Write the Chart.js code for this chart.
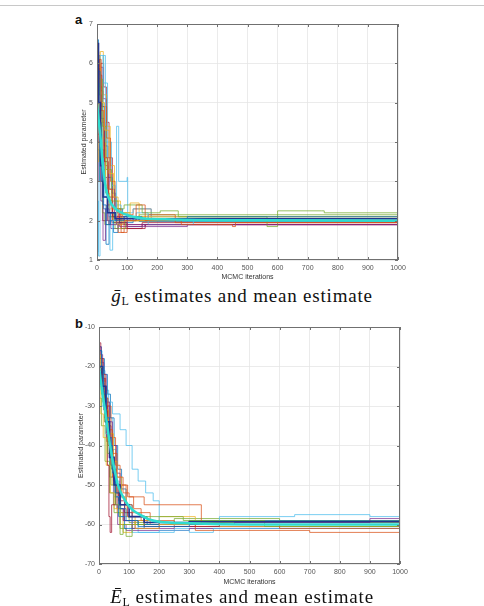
<!DOCTYPE html>
<html>
<head>
<meta charset="utf-8">
<script src="https://cdn.jsdelivr.net/npm/chart.js@4"></script>
<style>
  body { margin: 0; background: #fff; }
  #wrap { position: relative; width: 484px; height: 606px; overflow: hidden; }
  canvas { position: absolute; left: 0; }
  .letter { position: absolute; font: bold 13px "Liberation Sans", Arial, sans-serif; color: #111; }
  .cap { position: absolute; left: 0; width: 484px; text-align: center; letter-spacing: 0.8px;
         font: 19px "Liberation Serif", "DejaVu Serif", serif; color: #111; }
  .cap sub { font-size: 12px; vertical-align: -3px; line-height: 0; letter-spacing: 0; }
  .topline { position: absolute; left: 0; top: 5px; width: 484px; height: 0; border-top: 1px solid #c8c8c8; }
</style>
</head>
<body>
<div id="wrap">
  <div class="topline"></div>
  <div class="letter" style="left:75px;top:12px">a</div>
  <canvas id="chartA" width="484" height="285" style="top:0"></canvas>
  <div class="cap" style="top:285px"><i>ḡ</i><sub>L</sub> estimates and mean estimate</div>
  <div class="letter" style="left:75px;top:316px">b</div>
  <canvas id="chartB" width="484" height="290" style="top:300px"></canvas>
  <div class="cap" style="top:586px"><i>Ē</i><sub>L</sub> estimates and mean estimate</div>
</div>
<script>
// MATLAB default line colours
const colors = ['#0072BD', '#D95319', '#EDB120', '#7E2F8E', '#77AC30', '#4DBEEE', '#A2142F'];

// Panel a : g_L chains, [iteration, value] step points
const gRun1 = [[0,6.6],[5,5.8],[10,4.2],[15,3.0],[20,2.4],[30,1.9],[45,2.2],[60,2.0],[90,2.1],[150,2.05],[300,2.1],[1000,2.1]];
const gRun2 = [[0,5.5],[8,6.1],[14,4.8],[22,3.6],[35,2.8],[50,2.3],[70,1.7],[90,2.0],[130,2.4],[160,2.0],[280,1.9],[450,1.85],[460,1.95],[1000,1.95]];
const gRun3 = [[0,6.3],[6,5.9],[12,5.0],[25,4.3],[40,3.2],[55,2.6],[70,2.2],[110,2.0],[200,2.05],[1000,2.05]];
const gRun4 = [[0,4.8],[7,4.0],[13,2.5],[20,1.5],[28,2.3],[40,1.9],[65,2.1],[100,1.85],[160,1.9],[1000,1.95]];
const gRun5 = [[0,5.2],[9,5.6],[18,4.4],[30,3.3],[48,2.5],[70,2.3],[90,2.4],[150,2.2],[210,2.25],[270,2.1],[560,2.1],[565,1.85],[600,2.25],[745,2.25],[755,2.2],[1000,2.2]];
const gRun6 = [[0,2.5],[5,1.1],[10,3.5],[20,6.2],[28,4.0],[35,2.6],[43,1.25],[52,2.0],[65,4.4],[72,3.0],[100,3.1],[102,2.0],[130,2.2],[170,1.9],[320,2.0],[1000,2.0]];
const gRun7 = [[0,5.8],[4,6.1],[9,5.7],[16,4.9],[25,3.5],[38,2.6],[52,2.1],[75,1.95],[100,1.8],[160,1.9],[1000,1.95]];
const gRun8 = [[0,1.2],[3,3.0],[8,4.5],[14,3.8],[22,2.3],[30,1.4],[40,2.0],[55,1.7],[70,1.95],[120,2.05],[1000,2.0]];
const gRun9 = [[0,4.2],[10,5.3],[20,4.9],[32,4.1],[45,3.0],[60,2.3],[80,1.7],[100,2.0],[170,2.15],[260,1.95],[1000,1.95]];
const gRun10 = [[0,3.5],[6,5.0],[15,4.1],[28,2.9],[40,2.3],[65,1.9],[85,2.2],[110,2.45],[140,2.1],[1000,2.05]];
const gRun11 = [[0,5.0],[12,5.9],[20,5.1],[30,3.6],[42,2.8],[58,2.2],[75,1.85],[110,1.85],[150,1.9],[1000,1.97]];
const gRun12 = [[0,3.8],[8,3.0],[18,2.2],[26,1.9],[40,2.1],[60,1.8],[95,2.0],[1000,2.02]];
const gRun13 = [[0,6.0],[10,6.2],[22,5.5],[35,4.0],[48,2.9],[60,2.4],[80,2.2],[120,2.3],[180,2.1],[1000,2.08]];
const gRun14 = [[0,4.5],[5,5.6],[11,3.0],[19,2.0],[33,2.4],[50,1.95],[80,1.8],[150,1.95],[1000,1.92]];
const gRun15 = [[0,5.9],[7,5.2],[14,4.6],[24,3.9],[36,3.1],[50,2.7],[62,2.3],[85,2.1],[140,1.98],[1000,1.98]];
const gRun16 = [[0,6.2],[9,5.4],[17,4.5],[27,3.4],[37,2.5],[52,2.0],[70,2.15],[120,2.3],[180,2.05],[1000,2.0]];
const gRun17 = [[0,5.6],[11,6.3],[21,5.2],[33,4.4],[44,3.4],[58,2.5],[78,2.0],[140,2.1],[1000,2.06]];
const gRun18 = [[0,3.0],[4,4.6],[12,4.9],[24,3.1],[34,2.0],[46,1.8],[70,1.9],[160,1.85],[300,1.9],[1000,1.93]];
const gRun19 = [[0,4.0],[10,4.6],[19,3.8],[29,2.7],[42,2.2],[55,1.95],[80,2.1],[140,2.15],[1000,2.03]];
const gRun20 = [[0,5.3],[8,4.2],[16,3.3],[26,2.6],[38,2.1],[60,2.2],[100,2.05],[1000,2.1]];
const gRun21 = [[0,6.0],[7,5.3],[13,6.0],[22,5.4],[31,4.5],[40,3.6],[51,2.6],[64,2.1],[90,1.9],[1000,1.94]];
const gRunBold = [[0,6.5],[5,5.0],[12,3.4],[20,2.6],[35,2.2],[60,2.05],[150,2.05],[1000,2.03]];
const gMean = [[0,5.0],[5,4.6],[13,4.0],[18,3.5],[24,3.1],[30,2.8],[40,2.55],[55,2.35],[77,2.22],[110,2.12],[150,2.06],[250,2.03],[500,2.01],[1000,2.0]];

// Panel b : E_L chains
const eRun1 = [[0,-16],[8,-20],[15,-27],[25,-33],[35,-40],[45,-47],[55,-52],[70,-56],[90,-59],[130,-60.5],[300,-60],[1000,-59.5]];
const eRun2 = [[0,-18],[10,-22],[20,-28],[30,-36],[45,-42],[60,-48],[80,-52],[100,-53],[150,-55],[340,-60],[600,-61],[1000,-61]];
const eRun3 = [[0,-17],[5,-21],[12,-26],[22,-31],[32,-37],[48,-44],[60,-48],[75,-53],[90,-58],[120,-61],[200,-60],[1000,-60.3]];
const eRun4 = [[0,-15],[7,-19],[16,-25],[25,-29],[35,-34],[45,-40],[58,-47],[70,-53],[85,-59],[110,-61],[200,-60],[450,-59.5],[900,-58.5],[1000,-59]];
const eRun5 = [[0,-21],[8,-27],[18,-34],[28,-42],[40,-50],[55,-55],[70,-62.5],[80,-60],[150,-58],[280,-59],[550,-60.5],[1000,-60.5]];
const eRun6 = [[0,-19],[10,-24],[20,-27],[30,-29],[45,-32],[60,-32],[70,-36],[90,-40],[110,-46],[130,-49],[155,-52],[180,-54],[200,-60],[400,-58],[650,-57.5],[900,-58],[1000,-58]];
const eRun7 = [[0,-14],[6,-18],[14,-23],[22,-30],[28,-45],[33,-58],[37,-62],[42,-55],[55,-50],[70,-55],[95,-58],[150,-60.5],[400,-60],[1000,-59.5]];
const eRun8 = [[0,-20],[10,-26],[20,-31],[30,-38],[42,-46],[55,-53],[65,-58],[85,-61],[150,-60],[300,-59],[1000,-59]];
const eRun9 = [[0,-22],[10,-25],[25,-30],[40,-38],[55,-45],[70,-50],[90,-55],[110,-57],[170,-60],[320,-61.5],[700,-62],[1000,-62]];
const eRun10 = [[0,-25],[6,-32],[14,-38],[24,-45],[38,-52],[50,-56],[70,-60],[120,-59],[200,-58],[320,-60.5],[1000,-60.8]];
const eRun11 = [[0,-17],[12,-22],[24,-30],[36,-41],[48,-49],[60,-56],[80,-59],[120,-61],[250,-60.5],[1000,-60]];
const eRun12 = [[0,-28],[8,-35],[20,-44],[35,-52],[50,-57],[70,-61],[90,-63],[110,-60],[200,-59.5],[1000,-61]];
const eRun13 = [[0,-23],[10,-30],[22,-37],[35,-45],[50,-53],[70,-58],[110,-62],[200,-61.5],[300,-62],[380,-61],[1000,-61.5]];
const eRun14 = [[0,-19],[9,-23],[18,-28],[28,-35],[40,-43],[52,-50],[65,-54],[85,-57],[110,-59],[200,-60],[1000,-60.2]];
const eRun15 = [[0,-15],[8,-18],[18,-22],[28,-27],[38,-33],[50,-40],[62,-46],[75,-51],[90,-55],[110,-58],[160,-60],[1000,-59.8]];
const eRun16 = [[0,-21],[10,-27],[18,-33],[30,-40],[45,-48],[60,-52],[75,-50],[95,-53],[115,-56],[140,-59],[250,-60.5],[1000,-60.5]];
const eRun17 = [[0,-24],[12,-29],[22,-35],[34,-43],[46,-50],[60,-57],[80,-62],[110,-60],[300,-59],[1000,-59.5]];
const eRun18 = [[0,-18],[7,-23],[15,-30],[25,-39],[35,-48],[48,-55],[62,-60],[90,-61.5],[300,-61],[1000,-60.8]];
const eRun19 = [[0,-20],[9,-24],[19,-31],[30,-37],[44,-46],[58,-52],[72,-57],[100,-59.5],[250,-58.5],[600,-59],[1000,-59.7]];
const eRun20 = [[0,-16],[10,-21],[20,-26],[32,-33],[44,-41],[56,-49],[68,-55],[85,-59],[130,-62],[250,-61],[1000,-61]];
const eRun21 = [[0,-22],[8,-26],[16,-31],[26,-38],[38,-45],[52,-52],[66,-56],[82,-59],[130,-60],[1000,-60]];
const eRunBold = [[0,-20],[10,-25],[22,-34],[35,-43],[50,-50],[70,-55],[100,-58],[150,-59.5],[300,-59.3],[1000,-59.3]];
const eMean = [[0,-20],[10,-26],[20,-31],[30,-36.5],[40,-41.5],[50,-45.5],[63,-50],[80,-53],[96,-55],[115,-56.5],[136,-57.5],[170,-58.8],[200,-59.3],[300,-59.7],[500,-60],[1000,-60]];

const xTicks = [0, 100, 200, 300, 400, 500, 600, 700, 800, 900, 1000];

const toPts = arr => arr.map(p => ({ x: p[0], y: p[1] }));

function buildSets(runs, bold, mean) {
  const sets = [
    { data: toPts(mean), borderColor: '#2FDCCF', borderWidth: 2.5, cubicInterpolationMode: 'monotone' },
    { data: toPts(bold), borderColor: '#22348F', borderWidth: 1.6, stepped: true }
  ];
  runs.forEach((r, i) => sets.push({
    data: toPts(r), borderColor: colors[i % colors.length], borderWidth: 0.75, stepped: true
  }));
  return sets;
}

// draw the MATLAB-like box with inward ticks
const boxTicks = {
  id: 'boxTicks',
  afterDraw(chart) {
    const { ctx, chartArea: a, scales: { x, y } } = chart;
    ctx.save();
    ctx.strokeStyle = '#707070';
    ctx.lineWidth = 1;
    ctx.strokeRect(Math.round(a.left) + 0.5, Math.round(a.top) + 0.5, Math.round(a.width) - 1, Math.round(a.height) - 1);
    ctx.beginPath();
    x.ticks.forEach(t => {
      const px = Math.round(x.getPixelForValue(t.value)) + 0.5;
      ctx.moveTo(px, a.bottom); ctx.lineTo(px, a.bottom - 3);
      ctx.moveTo(px, a.top); ctx.lineTo(px, a.top + 3);
    });
    y.ticks.forEach(t => {
      const py = Math.round(y.getPixelForValue(t.value)) + 0.5;
      ctx.moveTo(a.left, py); ctx.lineTo(a.left + 3, py);
      ctx.moveTo(a.right, py); ctx.lineTo(a.right - 3, py);
    });
    ctx.stroke();
    ctx.restore();
  }
};

const tickFont = { family: '"Liberation Sans", Arial, sans-serif', size: 7 };

function makeChart(id, sets, yMin, yMax, yStep, pad, yWidth, xHeight) {
  return new Chart(document.getElementById(id), {
    type: 'line',
    data: { datasets: sets },
    options: {
      responsive: false,
      animation: false,
      events: [],
      layout: { padding: pad },
      elements: { point: { radius: 0 } },
      plugins: { legend: { display: false }, tooltip: { enabled: false } },
      scales: {
        x: {
          type: 'linear', min: 0, max: 1000,
          afterBuildTicks: s => { s.ticks = xTicks.map(v => ({ value: v })); },
          afterFit: s => { s.height = xHeight; },
          grid: { color: '#e6e6e6', lineWidth: 0.8, drawTicks: false },
          border: { display: false },
          ticks: { font: tickFont, color: '#555', padding: 4, maxRotation: 0, callback: v => String(v) },
          title: { display: true, text: 'MCMC iterations', font: tickFont, color: '#333', padding: { top: 0, bottom: 4 } }
        },
        y: {
          min: yMin, max: yMax,
          ticks: { stepSize: yStep, font: tickFont, color: '#555', padding: 4, callback: v => String(v) },
          afterFit: s => { s.width = yWidth; },
          grid: { color: '#e6e6e6', lineWidth: 0.8, drawTicks: false },
          border: { display: false },
          title: { display: true, text: 'Estimated parameter', font: tickFont, color: '#333', padding: 0 }
        }
      }
    },
    plugins: [boxTicks]
  });
}

makeChart('chartA',
  buildSets([gRun1, gRun2, gRun3, gRun4, gRun5, gRun6, gRun7, gRun8, gRun9, gRun10, gRun11, gRun12, gRun13, gRun14,
             gRun15, gRun16, gRun17, gRun18, gRun19, gRun20, gRun21], gRunBold, gMean),
  1, 7, 1, { left: 80, right: 86, top: 24, bottom: 0 }, 17, 25);

makeChart('chartB',
  buildSets([eRun1, eRun2, eRun3, eRun4, eRun5, eRun6, eRun7, eRun8, eRun9, eRun10, eRun11, eRun12, eRun13, eRun14,
             eRun15, eRun16, eRun17, eRun18, eRun19, eRun20, eRun21], eRunBold, eMean),
  -70, -10, 10, { left: 77, right: 84, top: 27, bottom: 0 }, 22, 26);
</script>
</body>
</html>
